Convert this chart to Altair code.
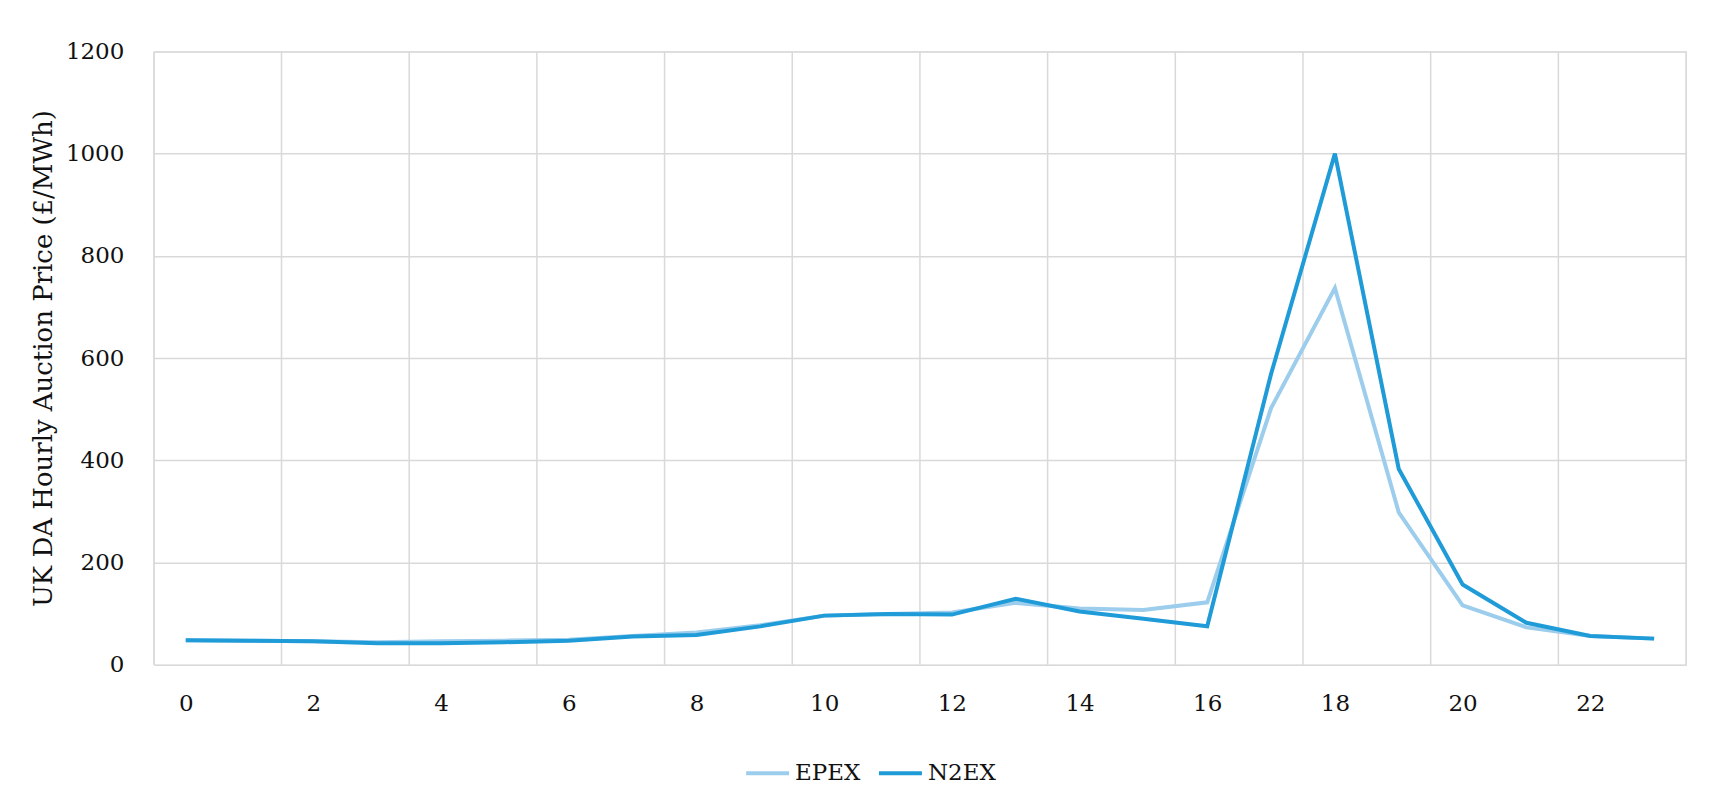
import altair as alt
import pandas as pd

hours = list(range(24))
epex = [48, 47, 46, 44, 46, 47, 49, 56, 63, 77, 96, 99, 102, 121, 110, 107, 122, 502, 737, 298, 116, 73, 56, 51]
n2ex = [48, 47, 46, 42, 42, 44, 47, 55, 58, 75, 96, 99, 98, 129, 104, 90, 75, 569, 1000, 383, 157, 82, 56, 51]
series_names = ["EPEX", "N2EX"]
series_colors = ["#9CCDEC", "#1F9BD8"]
x_labels = list(range(0, 23, 2))
x_grid = [-0.5 + 2 * k for k in range(13)]
y_ticks = list(range(0, 1201, 200))

rows = []
for name, vals in zip(series_names, [epex, n2ex]):
    for h, v in zip(hours, vals):
        rows.append({"hour": h, "price": v, "series": name})
df = pd.DataFrame(rows)
grid_df = pd.DataFrame({"hour": x_grid})

FONT = "DejaVu Serif"
TXT = "#111111"
xscale = alt.Scale(domain=[-0.5, 23.5], nice=False, zero=False)
yscale = alt.Scale(domain=[0, 1200], nice=False)

xaxis = alt.Axis(values=x_labels, grid=False, ticks=False, domain=False,
                 title=None, labelPadding=28, labelFontSize=23,
                 labelFont=FONT, labelColor=TXT, format="d")

vgrid = alt.Chart(grid_df).mark_rule(color="#d9d9d9", strokeWidth=1.5).encode(
    x=alt.X("hour:Q", scale=xscale, axis=xaxis)
)

lines = alt.Chart(df).mark_line(strokeWidth=4).encode(
    x=alt.X("hour:Q", scale=xscale, axis=xaxis),
    y=alt.Y("price:Q", scale=yscale,
            axis=alt.Axis(values=y_ticks, grid=True, gridColor="#d9d9d9", gridWidth=1.5,
                          ticks=False, domain=False, labelPadding=30, labelFontSize=23,
                          labelFont=FONT, labelColor=TXT, format="d",
                          title="UK DA Hourly Auction Price (£/MWh)",
                          titleFont=FONT, titleFontSize=26, titleFontWeight="normal",
                          titleColor=TXT, titlePadding=9)),
    color=alt.Color("series:N",
                    scale=alt.Scale(domain=series_names, range=series_colors),
                    legend=alt.Legend(title=None, orient="none", direction="horizontal",
                                      legendX=591, legendY=699,
                                      symbolType="stroke", symbolSize=1849,
                                      symbolStrokeWidth=4, labelFont=FONT,
                                      labelFontSize=23, labelColor=TXT,
                                      labelOffset=4, columnPadding=10)),
    order=alt.Order("hour:Q"),
)

chart = alt.layer(vgrid, lines).properties(
    width=1534, height=614,
    autosize=alt.AutoSizeParams(type="none"),
    padding={"left": 146, "top": 43, "right": 40, "bottom": 120},
).configure_view(stroke="#d9d9d9", strokeWidth=1.5).configure(background="white")

chart.save("out.html", embed_options={"renderer": "svg", "actions": False})
